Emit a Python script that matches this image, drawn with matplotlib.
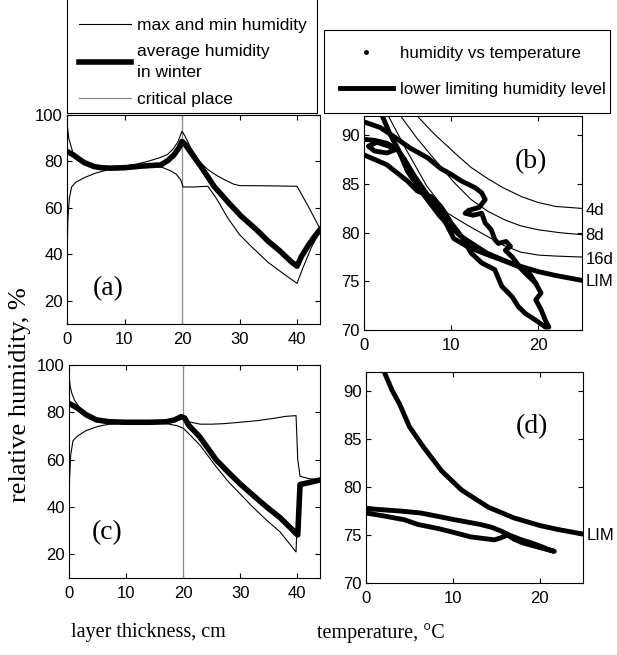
import matplotlib
matplotlib.use("Agg")
import matplotlib.pyplot as plt
from matplotlib.lines import Line2D
from matplotlib.legend_handler import HandlerLine2D

plt.rcParams['font.family'] = ['Liberation Sans', 'DejaVu Sans']

# (a) humidity across the layer
a_max_x = [0, 0.3, 1, 2, 3, 5, 7, 10, 12, 14, 16, 17.5, 18.5, 19.3, 20, 20.5, 21.5, 23, 24.5, 26, 27.5, 29, 30, 35, 40, 42, 44]
a_max_y = [97, 90, 84, 81, 79.5, 78.3, 77.8, 78, 78.8, 80, 81.5, 83, 85.5, 88.5, 93, 91, 86, 80, 76.5, 74, 72, 70.2, 69.6, 69.5, 69.3, 60.5, 51]
a_min_x = [0, 0.15, 0.4, 0.8, 1.5, 3, 5, 7, 10, 13, 15, 16.5, 18, 19, 19.8, 20.2, 22, 23.5, 24.5, 26, 28, 30, 32, 35, 38, 40, 41, 42.5, 44]
a_min_y = [38, 55, 64, 69, 71, 73, 75, 76.3, 77, 77.5, 77.7, 77.5, 76, 74.5, 72, 69, 69, 69.2, 69.3, 64, 55.5, 48.5, 43.5, 36.5, 31, 27.5, 34, 43, 50]
a_avg_x = [0, 1, 2, 3, 4.7, 6, 7.6, 10, 13, 16.3, 17.5, 18.6, 19.5, 20, 20.5, 21.5, 23.3, 25.6, 28, 30.3, 33, 35, 37, 39, 40, 40.8, 42, 43, 44]
a_avg_y = [84.3, 83, 81.2, 79.5, 77.8, 77.3, 77.1, 77.3, 78, 78.5, 80.3, 82.8, 86, 88.6, 87.5, 84, 77.8, 69.2, 62.5, 56.4, 50.5, 45.6, 41.5, 36.8, 34.9, 39.2, 44, 47.5, 50.6]

# (c) humidity across the layer
c_max_x = [0, 0.2, 0.5, 1, 2, 3, 5, 7, 10, 15, 18, 19.5, 20.3, 21, 23, 25, 27, 30, 33, 36, 38, 39.8, 40.1, 40.5, 42, 44]
c_max_y = [96, 91, 88, 85, 81.5, 79, 76.5, 75.7, 75.5, 75.5, 76, 77, 78.5, 76, 75, 75, 75.2, 75.8, 76.5, 77.5, 78.3, 78.6, 60, 53, 52, 51.5]
c_min_x = [0, 0.1, 0.3, 0.7, 1.5, 3, 5, 7, 10, 15, 17, 19, 20, 21, 23, 25.8, 28, 29.9, 32, 34.6, 37, 39.8, 40, 40.3, 42, 44]
c_min_y = [41, 52, 62, 68, 70, 72.3, 74, 75, 75.5, 75.5, 75.3, 74.3, 73.3, 71, 66, 57, 50.5, 45.8, 40.5, 34.5, 29.5, 21, 35, 49.5, 50.5, 51.3]
c_avg_x = [0, 1, 1.9, 3, 4.8, 7.1, 10, 14, 17, 18.5, 19.7, 20.3, 21, 22.9, 25.8, 28, 29.9, 32, 34.6, 37, 39.2, 39.9, 40.1, 40.5, 42, 44]
c_avg_y = [83.8, 82.5, 81, 79, 76.8, 76, 75.8, 75.8, 76, 76.8, 78.2, 77.5, 74.5, 69.7, 59.9, 54.5, 50, 45.5, 40.1, 35.5, 30.3, 28.5, 28.2, 49.5, 50.3, 51.4]

critical_x = 20

# limiting humidity curves, temperature vs humidity
lim_t = [2.1, 3, 3.9, 5, 6.6, 8.7, 11, 14.1, 17, 20, 22, 25]
lim_h = [92, 90.1, 88.6, 86.3, 84.2, 81.7, 79.7, 77.9, 76.8, 76.0, 75.6, 75.1]
d16_t = [2.8, 4.8, 7.2, 9.6, 12, 14, 16, 18, 20, 22, 25]
d16_h = [92, 88.6, 84.8, 82.0, 80.7, 79.7, 78.7, 78.0, 77.7, 77.6, 77.5]
d8_t = [4.2, 6, 8.4, 10.4, 12.3, 14.2, 16.2, 18, 20, 22.5, 25]
d8_h = [92, 89.8, 87.2, 85.1, 83.4, 82.2, 81.3, 80.7, 80.3, 80.0, 79.8]
d4_t = [6.1, 8, 10.4, 12.3, 14.3, 16, 18.1, 20, 22, 25]
d4_h = [92, 90.2, 88.2, 86.7, 85.5, 84.6, 83.7, 83.1, 82.7, 82.5]

# (b) measured humidity vs temperature
b1_t = [0, 1.9, 3.4, 5.3, 7.3, 8.8, 10, 11.2, 11.9, 12.8, 13.5, 13.9, 13.2, 12.0, 11.6, 12.5, 13.5, 13.9, 14.6, 15.0, 15.4, 16.3, 16.8, 16.2, 17.0, 17.6, 18.1, 19.7, 20.3, 19.7, 20.3, 20.8, 21.2,
        20.8, 19.7, 18.5, 17.7, 17.0, 15.8, 15.0, 13.5, 12.3, 11.2, 10.0, 8.8, 7.7, 6.1, 5.0, 2.6, 0]
b1_h = [91.4, 90.8, 89.9, 88.7, 87.7, 86.6, 86.0, 85.3, 85.0, 84.6, 84.1, 83.4, 82.6, 82.3, 82.0, 81.8, 82.0, 81.0, 80.3, 79.3, 78.9, 79.1, 78.6, 78.2, 77.5, 76.8, 76.2, 74.8, 73.8, 73.1, 72.1, 71.0, 70.3,
        70.3, 71.0, 71.7, 72.4, 73.4, 74.5, 76.2, 76.9, 77.9, 79.6, 81.0, 82.7, 83.7, 84.3, 85.3, 87.0, 88.0]
b2_t = [0, 1.2, 2.6, 3.8, 2.6, 1.2, 0.5, 1.5, 3.8, 4.6, 5.8, 7.2, 8.5, 9.5, 10.3, 12, 14, 15.5, 17, 18, 19, 19.7]
b2_h = [89.6, 89.5, 89.2, 88.6, 88.2, 88.4, 88.9, 89.3, 88.6, 87.6, 85.8, 84.0, 82.3, 80.8, 79.4, 78.5, 77.8, 77.3, 76.8, 76.4, 75.8, 74.8]

# (d) measured humidity vs temperature
d_t = [0, 1, 2.4, 4, 6.3, 8, 10.2, 12, 13.2, 14.5, 15.6, 16.5, 17.9, 19, 20.2, 21, 21.7,
       20, 18, 17, 16.3, 15.5, 14.8, 12.1, 10, 8.2, 6, 4.4, 2, 0]
d_h = [77.8, 77.7, 77.6, 77.5, 77.3, 77.0, 76.6, 76.3, 76.1, 75.8, 75.4, 75.0, 74.5, 74.2, 73.8, 73.5, 73.3,
       73.7, 74.2, 74.6, 75.0, 74.7, 74.5, 74.8, 75.3, 75.7, 76.1, 76.6, 77.0, 77.3]

W, H = 617, 655
fig = plt.figure(figsize=(W / 100, H / 100), dpi=100)


def box(l, t, r, b):
    return [l / W, 1 - b / H, (r - l) / W, (b - t) / H]


ax_a = fig.add_axes(box(67, 115, 320, 324))
ax_c = fig.add_axes(box(69, 365, 320, 578))
ax_b = fig.add_axes(box(364, 116, 582, 330))
ax_d = fig.add_axes(box(366, 372, 583, 583))

serif = 'Liberation Serif'
fs = 12

for ax in (ax_a, ax_c):
    ax.axvline(critical_x, color='#8a8a8a', lw=0.9)
    ax.set_xlim(0, 44)
    ax.set_ylim(10, 100)
    ax.set_xticks([0, 10, 20, 30, 40])
    ax.set_yticks([20, 40, 60, 80, 100])

ax_a.plot(a_max_x, a_max_y, color='k', lw=0.8)
ax_a.plot(a_min_x, a_min_y, color='k', lw=0.8)
ax_a.plot(a_avg_x, a_avg_y, color='k', lw=4)
ax_a.text(7.1, 25.3, '(a)', family=serif, fontsize=20, ha='center', va='center')

ax_c.plot(c_max_x, c_max_y, color='k', lw=0.8)
ax_c.plot(c_min_x, c_min_y, color='k', lw=0.8)
ax_c.plot(c_avg_x, c_avg_y, color='k', lw=4)
ax_c.text(6.7, 29.2, '(c)', family=serif, fontsize=20, ha='center', va='center')

for ax in (ax_b, ax_d):
    ax.set_xlim(0, 25)
    ax.set_ylim(70, 92)
    ax.set_xticks([0, 10, 20])
    ax.set_yticks([70, 75, 80, 85, 90])
    ax.plot(lim_t, lim_h, color='k', lw=3.5)
    ax.text(25.4, 75.0, 'LIM', fontsize=fs, va='center', ha='left')

ax_b.plot(d16_t, d16_h, color='k', lw=0.8)
ax_b.plot(d8_t, d8_h, color='k', lw=0.8)
ax_b.plot(d4_t, d4_h, color='k', lw=0.8)
ax_b.plot(b1_t, b1_h, color='k', lw=3.5, solid_joinstyle='round')
ax_b.plot(b2_t, b2_h, color='k', lw=3.5, solid_joinstyle='round')
ax_b.text(25.4, 82.3, '4d', fontsize=fs, va='center', ha='left')
ax_b.text(25.4, 79.7, '8d', fontsize=fs, va='center', ha='left')
ax_b.text(25.4, 77.2, '16d', fontsize=fs, va='center', ha='left')
ax_b.text(19.2, 87.3, '(b)', family=serif, fontsize=20, ha='center', va='center')

ax_d.plot(d_t, d_h, color='k', lw=3.5, solid_joinstyle='round')
ax_d.text(19.1, 86.3, '(d)', family=serif, fontsize=20, ha='center', va='center')

for ax in (ax_a, ax_b, ax_c, ax_d):
    ax.tick_params(direction='in', top=True, right=True, length=3.5, width=0.8,
                   labelsize=fs, pad=3)
    ax.tick_params(axis='x', pad=6)
    for s in ax.spines.values():
        s.set_linewidth(0.8)

fig.text(20 / W, 1 - 395 / H, 'relative humidity, %', family=serif, fontsize=19,
         rotation=90, ha='center', va='center')
fig.text(148 / W, 1 - 633 / H, 'layer thickness, cm', family=serif, fontsize=14.5,
         ha='center', va='center')
fig.text(381 / W, 1 - 633 / H, 'temperature, °C', family=serif, fontsize=14.5,
         ha='center', va='center')

h_left = [Line2D([], [], color='k', lw=0.8),
          Line2D([], [], color='k', lw=4),
          Line2D([], [], color='#8a8a8a', lw=0.9)]
leg1 = fig.legend(h_left, ['max and min humidity', 'average humidity\nin winter', 'critical place'],
                  loc='lower left', bbox_to_anchor=(67 / W, 1 - 113 / H, 250 / W, 0.1),
                  mode='expand', borderaxespad=0, fontsize=12.5, handlelength=3.33,
                  handletextpad=0.4, labelspacing=0.67, borderpad=0.33,
                  fancybox=False, edgecolor='k', framealpha=1,
                  title=' ', title_fontsize=12.5,
                  handler_map={Line2D: HandlerLine2D(xpad=0.345)})
leg1.get_frame().set_linewidth(0.8)
for t in leg1.get_texts():
    t.set_linespacing(1.5)

h_right = [Line2D([], [], color='k', marker='.', ls='none', markersize=5),
           Line2D([], [], color='k', lw=3.5)]
leg2 = fig.legend(h_right, ['humidity vs temperature', 'lower limiting humidity level'],
                  loc='lower left', bbox_to_anchor=(324 / W, 1 - 113 / H, 286 / W, 0.1),
                  mode='expand', borderaxespad=0, fontsize=12.2, handlelength=3.1,
                  handletextpad=0.45, labelspacing=1.25, borderpad=0.95,
                  fancybox=False, edgecolor='k', framealpha=1)
leg2.get_frame().set_linewidth(0.8)

fig.savefig('out.png', dpi=100)
